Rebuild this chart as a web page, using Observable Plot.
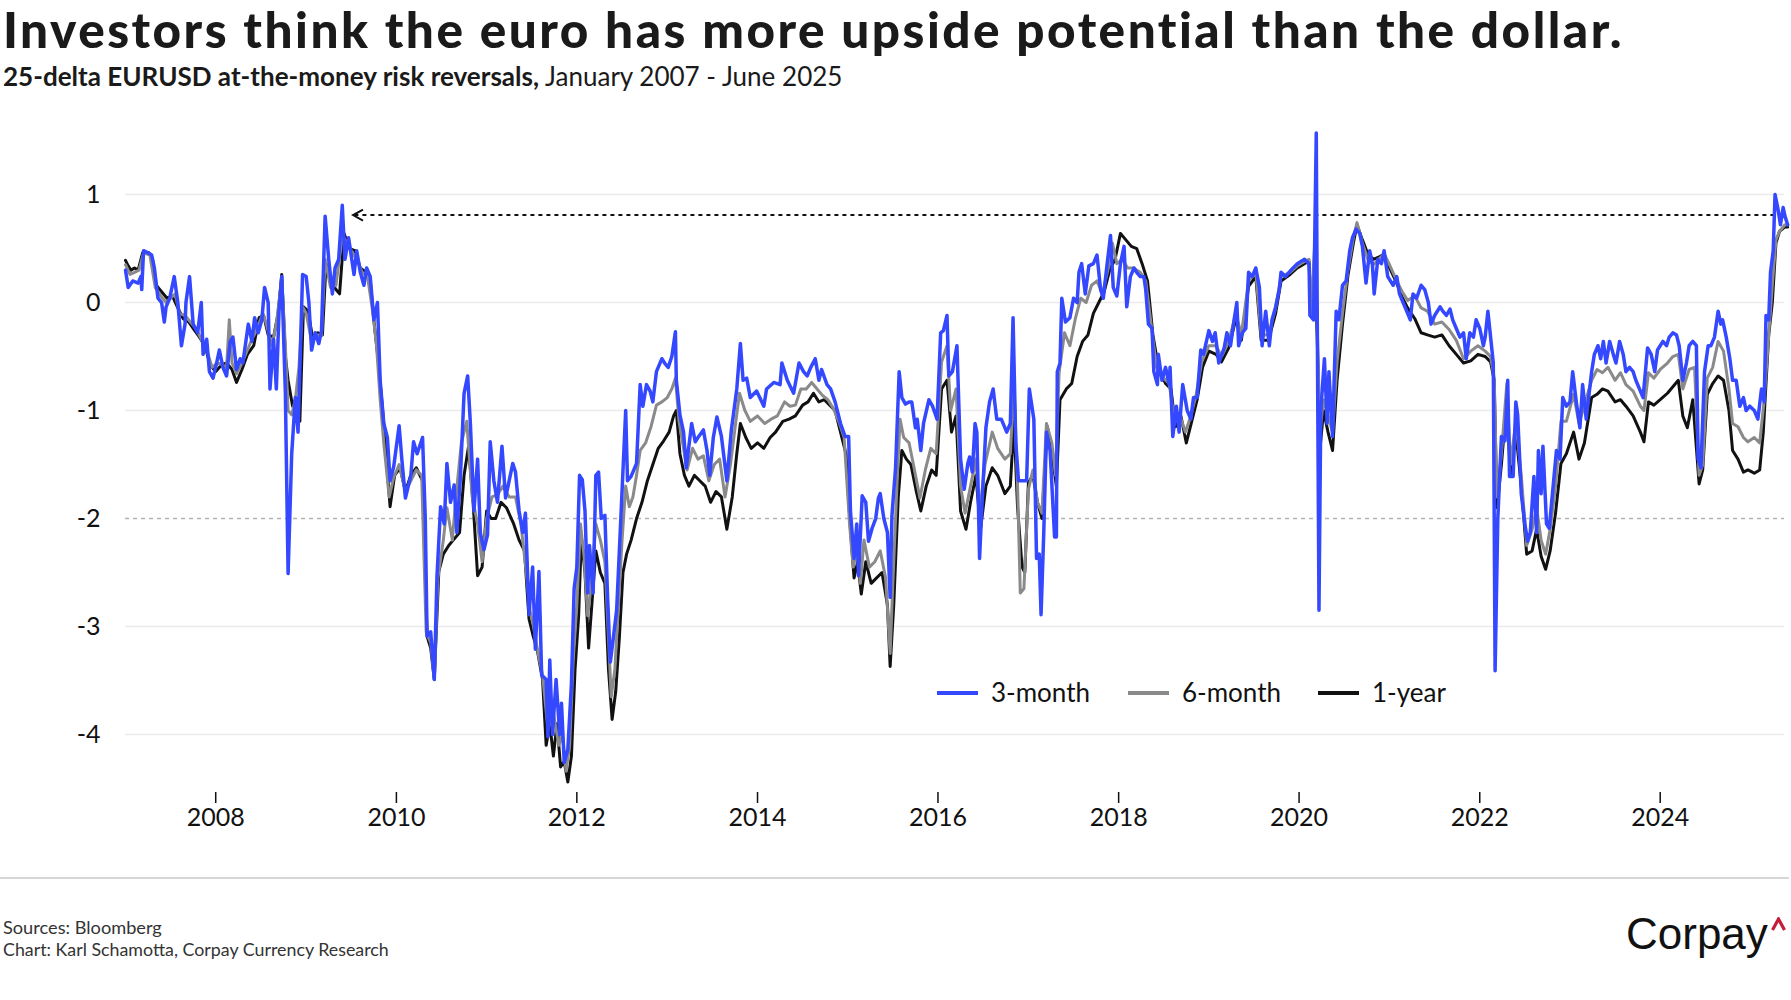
<!DOCTYPE html>
<html><head><meta charset="utf-8">
<script src="https://cdn.jsdelivr.net/npm/d3@7"></script>
<script src="https://cdn.jsdelivr.net/npm/@observablehq/plot@0.6"></script>
<style>
body{margin:0;background:#fff;font-family:Lato,"Open Sans",sans-serif;}
#wrap{position:relative;width:1791px;height:1000px;overflow:hidden;background:#fff;}
.abs{position:absolute;white-space:nowrap;line-height:1;}
.sw{position:absolute;height:4px;width:41px;}
.lt{position:absolute;white-space:nowrap;line-height:1;font-size:26px;color:#111;}
</style></head><body><div id="wrap">
<div id="title" class="abs" style="left:3px;top:5px;font-size:49.5px;font-weight:900;color:#1a1a1a">Investors think the euro has more upside potential than the dollar.</div>
<div id="subtitle" class="abs" style="left:3px;top:64px;font-size:25px;color:#1a1a1a"><span style="font-weight:700">25-delta EURUSD at-the-money risk reversals,</span> January 2007 - June 2025</div>
<div id="chart" class="abs" style="left:0;top:100px"></div>
<div id="legend"></div>
<div class="abs" style="left:0;top:877px;width:1789px;height:2px;background:#d6d6d6"></div>
<div id="src" class="abs" style="left:3px;top:918px;font-size:17px;color:#333">Sources: Bloomberg</div>
<div id="credit" class="abs" style="left:3px;top:941px;font-size:17px;color:#333">Chart: Karl Schamotta, Corpay Currency Research</div>
<div id="logo" class="abs" style="left:1626px;top:912px;font-size:44px;font-family:'Liberation Sans',Arial,sans-serif;color:#111">Corpay</div>
<svg class="abs" style="left:1771px;top:917px" width="16" height="16"><polyline points="1.5,13 7.5,2 13.5,13" fill="none" stroke="#c41e3a" stroke-width="3.2" stroke-linejoin="miter"/></svg>
</div>
<script>
// ---- data: [decimal year, value] ----
const threeMonth = [
[2007.00,0.30],[2007.03,0.14],[2007.08,0.20],[2007.14,0.18],[2007.17,0.24],[2007.18,0.12],[2007.20,0.48],[2007.25,0.46],[2007.29,0.44],[2007.32,0.32],[2007.36,0.04],[2007.40,0.00],[2007.43,-0.18],[2007.45,-0.04],[2007.49,0.04],[2007.54,0.24],[2007.58,0.00],[2007.62,-0.40],[2007.66,-0.20],[2007.67,0.00],[2007.71,0.24],[2007.75,-0.20],[2007.80,-0.28],[2007.84,0.00],[2007.86,-0.48],[2007.90,-0.34],[2007.93,-0.64],[2007.97,-0.70],
[2008.01,-0.56],[2008.04,-0.44],[2008.08,-0.60],[2008.12,-0.68],[2008.16,-0.36],[2008.19,-0.32],[2008.23,-0.62],[2008.27,-0.52],[2008.30,-0.56],[2008.36,-0.20],[2008.40,-0.36],[2008.43,-0.14],[2008.47,-0.28],[2008.51,-0.16],[2008.54,0.14],[2008.58,0.00],[2008.60,-0.80],[2008.64,-0.34],[2008.67,-0.80],[2008.70,-0.08],[2008.73,0.24],[2008.77,-0.84],[2008.80,-2.51],[2008.84,-1.40],[2008.88,-0.88],[2008.91,-1.20],[2008.96,0.26],
[2009.00,0.24],[2009.03,0.00],[2009.06,-0.44],[2009.10,-0.28],[2009.14,-0.38],[2009.17,-0.26],[2009.21,0.80],[2009.25,0.40],[2009.29,0.08],[2009.32,0.32],[2009.36,0.40],[2009.40,0.90],[2009.43,0.40],[2009.47,0.60],[2009.53,0.26],[2009.56,0.48],[2009.60,0.28],[2009.64,0.16],[2009.67,0.32],[2009.71,0.24],[2009.75,-0.16],[2009.79,0.00],[2009.82,-0.72],[2009.86,-1.12],[2009.90,-1.25],[2009.93,-1.65],[2009.97,-1.52],
[2010.03,-1.14],[2010.06,-1.45],[2010.10,-1.81],[2010.16,-1.60],[2010.19,-1.29],[2010.23,-1.40],[2010.29,-1.25],[2010.32,-2.00],[2010.34,-3.09],[2010.38,-3.05],[2010.42,-3.49],[2010.45,-2.53],[2010.49,-1.89],[2010.53,-2.05],[2010.56,-1.49],[2010.60,-1.85],[2010.64,-1.69],[2010.67,-2.13],[2010.71,-1.60],[2010.75,-0.84],[2010.79,-0.68],[2010.82,-1.12],[2010.86,-1.93],[2010.90,-1.45],[2010.93,-2.13],[2010.97,-2.29],
[2011.01,-2.15],[2011.04,-1.29],[2011.08,-1.65],[2011.12,-1.85],[2011.17,-1.33],[2011.21,-1.81],[2011.25,-1.65],[2011.29,-1.49],[2011.32,-1.57],[2011.36,-1.93],[2011.40,-2.13],[2011.43,-1.95],[2011.47,-2.89],[2011.51,-2.45],[2011.54,-3.21],[2011.58,-2.49],[2011.61,-3.45],[2011.66,-3.49],[2011.68,-4.02],[2011.70,-3.31],[2011.73,-4.00],[2011.77,-3.49],[2011.81,-4.00],[2011.83,-3.71],[2011.86,-4.26],[2011.90,-4.14],[2011.94,-3.53],[2011.97,-2.65],
[2012.00,-2.45],[2012.03,-1.60],[2012.06,-1.64],[2012.09,-1.93],[2012.12,-2.69],[2012.14,-2.25],[2012.18,-2.69],[2012.21,-1.60],[2012.24,-1.57],[2012.27,-2.00],[2012.31,-1.97],[2012.34,-2.73],[2012.37,-3.33],[2012.40,-3.13],[2012.44,-2.85],[2012.49,-1.93],[2012.54,-1.00],[2012.56,-1.65],[2012.60,-1.61],[2012.66,-1.49],[2012.70,-0.76],[2012.73,-0.96],[2012.77,-0.76],[2012.81,-0.82],[2012.84,-0.92],[2012.88,-0.64],[2012.94,-0.52],[2012.97,-0.56],
[2013.01,-0.60],[2013.05,-0.50],[2013.09,-0.27],[2013.10,-0.72],[2013.14,-1.04],[2013.18,-1.20],[2013.21,-1.53],[2013.27,-1.12],[2013.31,-1.29],[2013.34,-1.25],[2013.40,-1.18],[2013.44,-1.37],[2013.47,-1.60],[2013.51,-1.25],[2013.55,-1.06],[2013.60,-1.24],[2013.66,-1.65],[2013.71,-1.18],[2013.77,-0.80],[2013.81,-0.38],[2013.84,-0.72],[2013.88,-0.70],[2013.92,-0.88],[2013.99,-0.82],
[2014.07,-0.96],[2014.10,-0.80],[2014.18,-0.74],[2014.25,-0.76],[2014.27,-0.56],[2014.33,-0.72],[2014.40,-0.84],[2014.46,-0.56],[2014.51,-0.64],[2014.55,-0.68],[2014.59,-0.60],[2014.64,-0.52],[2014.68,-0.72],[2014.71,-0.62],[2014.77,-0.76],[2014.81,-0.80],[2014.86,-0.92],[2014.92,-1.12],[2014.97,-1.24],
[2015.01,-1.24],[2015.03,-1.93],[2015.07,-2.37],[2015.10,-2.05],[2015.12,-2.53],[2015.16,-1.79],[2015.20,-1.85],[2015.23,-2.21],[2015.27,-2.09],[2015.31,-2.00],[2015.34,-1.81],[2015.36,-1.77],[2015.40,-2.00],[2015.44,-2.13],[2015.47,-2.73],[2015.49,-1.97],[2015.53,-1.53],[2015.57,-0.64],[2015.60,-0.88],[2015.64,-0.94],[2015.68,-0.92],[2015.71,-0.92],[2015.75,-1.16],[2015.77,-1.08],[2015.81,-1.37],[2015.84,-1.12],[2015.90,-0.90],[2015.94,-0.96],[2015.99,-1.08],
[2016.03,-0.28],[2016.06,-0.26],[2016.10,-0.12],[2016.12,-0.68],[2016.16,-0.64],[2016.21,-0.40],[2016.25,-1.45],[2016.29,-1.73],[2016.33,-1.49],[2016.35,-1.43],[2016.38,-1.57],[2016.41,-1.12],[2016.43,-1.20],[2016.46,-2.37],[2016.49,-1.81],[2016.53,-1.16],[2016.57,-0.92],[2016.61,-0.80],[2016.65,-1.08],[2016.70,-1.08],[2016.76,-1.20],[2016.80,-1.12],[2016.83,-0.14],[2016.86,-1.29],[2016.89,-1.65],[2016.94,-1.65],[2016.98,-1.65],
[2017.01,-0.80],[2017.06,-1.08],[2017.09,-2.37],[2017.12,-2.33],[2017.14,-2.89],[2017.17,-2.13],[2017.20,-1.20],[2017.24,-1.37],[2017.29,-2.17],[2017.31,-2.17],[2017.32,-0.64],[2017.35,-0.56],[2017.37,0.04],[2017.41,-0.18],[2017.46,-0.14],[2017.50,0.04],[2017.54,0.00],[2017.56,0.28],[2017.59,0.36],[2017.63,0.08],[2017.67,0.34],[2017.72,0.36],[2017.76,0.44],[2017.80,0.12],[2017.83,0.04],[2017.87,0.34],[2017.91,0.62],[2017.94,0.14],[2017.98,0.06],
[2018.02,0.36],[2018.06,0.52],[2018.09,-0.04],[2018.13,0.24],[2018.17,0.32],[2018.20,0.28],[2018.24,0.24],[2018.28,0.24],[2018.30,0.12],[2018.33,-0.20],[2018.37,-0.24],[2018.39,-0.64],[2018.43,-0.76],[2018.44,-0.48],[2018.48,-0.72],[2018.52,-0.60],[2018.56,-0.76],[2018.57,-0.60],[2018.60,-1.24],[2018.64,-0.96],[2018.67,-1.20],[2018.71,-0.76],[2018.76,-1.00],[2018.80,-1.08],[2018.83,-0.88],[2018.87,-0.88],[2018.91,-0.44],[2018.94,-0.48],
[2019.00,-0.26],[2019.04,-0.36],[2019.07,-0.28],[2019.11,-0.56],[2019.17,-0.42],[2019.20,-0.28],[2019.24,-0.40],[2019.28,-0.16],[2019.31,0.00],[2019.33,-0.40],[2019.37,-0.28],[2019.41,-0.24],[2019.44,0.28],[2019.48,0.24],[2019.52,0.32],[2019.56,0.14],[2019.59,-0.40],[2019.63,-0.08],[2019.67,-0.40],[2019.70,-0.16],[2019.74,-0.04],[2019.78,0.12],[2019.80,0.28],[2019.85,0.24],[2019.91,0.30],[2019.98,0.36],
[2020.06,0.40],[2020.11,0.36],[2020.12,-0.12],[2020.16,-0.16],[2020.19,1.57],[2020.20,0.00],[2020.22,-2.85],[2020.24,-1.00],[2020.28,-0.52],[2020.31,-1.12],[2020.33,-0.64],[2020.37,-1.24],[2020.41,-0.08],[2020.44,-0.16],[2020.48,0.16],[2020.52,0.20],[2020.56,0.48],[2020.59,0.60],[2020.63,0.68],[2020.67,0.64],[2020.70,0.52],[2020.74,0.18],[2020.78,0.48],[2020.81,0.36],[2020.83,0.08],[2020.87,0.40],[2020.91,0.36],[2020.94,0.48],[2020.98,0.24],
[2021.04,0.16],[2021.08,0.24],[2021.11,0.08],[2021.15,0.00],[2021.19,-0.08],[2021.23,-0.16],[2021.26,0.08],[2021.30,0.04],[2021.35,0.16],[2021.39,0.12],[2021.43,0.00],[2021.46,-0.20],[2021.50,-0.12],[2021.56,-0.04],[2021.59,-0.08],[2021.63,-0.12],[2021.67,-0.06],[2021.70,-0.16],[2021.74,-0.24],[2021.78,-0.32],[2021.82,-0.28],[2021.85,-0.52],[2021.89,-0.28],[2021.93,-0.32],[2021.96,-0.16],
[2022.00,-0.24],[2022.04,-0.40],[2022.06,-0.32],[2022.09,-0.08],[2022.12,-0.32],[2022.15,-0.56],[2022.17,-3.41],[2022.20,-2.00],[2022.24,-1.24],[2022.28,-1.28],[2022.31,-0.72],[2022.33,-1.61],[2022.37,-1.61],[2022.40,-0.92],[2022.42,-1.04],[2022.46,-1.77],[2022.50,-2.05],[2022.53,-2.21],[2022.56,-2.13],[2022.60,-1.61],[2022.63,-2.13],[2022.65,-1.37],[2022.68,-1.77],[2022.70,-1.33],[2022.74,-2.05],[2022.77,-2.09],[2022.81,-1.73],[2022.85,-1.37],[2022.89,-1.45],[2022.92,-0.88],[2022.96,-0.96],
[2023.00,-0.92],[2023.03,-0.64],[2023.07,-0.92],[2023.11,-1.16],[2023.14,-0.76],[2023.18,-1.08],[2023.24,-0.64],[2023.27,-0.48],[2023.31,-0.40],[2023.34,-0.52],[2023.37,-0.36],[2023.40,-0.56],[2023.44,-0.36],[2023.48,-0.48],[2023.51,-0.56],[2023.55,-0.36],[2023.59,-0.48],[2023.62,-0.64],[2023.66,-0.60],[2023.70,-0.64],[2023.73,-0.72],[2023.77,-0.80],[2023.81,-0.88],[2023.86,-0.42],[2023.90,-0.48],[2023.94,-0.64],[2023.97,-0.44],
[2024.03,-0.36],[2024.07,-0.40],[2024.10,-0.32],[2024.14,-0.28],[2024.18,-0.30],[2024.21,-0.40],[2024.25,-0.72],[2024.29,-0.56],[2024.32,-0.40],[2024.36,-0.36],[2024.40,-0.40],[2024.42,-1.45],[2024.45,-1.53],[2024.49,-0.64],[2024.53,-0.40],[2024.56,-0.40],[2024.60,-0.32],[2024.64,-0.08],[2024.67,-0.20],[2024.69,-0.16],[2024.73,-0.32],[2024.77,-0.52],[2024.80,-0.72],[2024.84,-0.72],[2024.88,-0.96],[2024.92,-0.88],[2024.95,-1.00],[2024.99,-0.96],
[2025.04,-1.00],[2025.08,-1.08],[2025.12,-0.80],[2025.15,-0.92],[2025.17,-0.12],[2025.20,-0.16],[2025.22,0.28],[2025.25,0.48],[2025.27,1.00],[2025.30,0.88],[2025.33,0.72],[2025.36,0.88],[2025.38,0.80],[2025.41,0.72]
];
const sixMonth = [
[2007.00,0.35],[2007.05,0.26],[2007.10,0.28],[2007.15,0.30],[2007.20,0.46],[2007.27,0.44],[2007.33,0.14],[2007.40,0.05],[2007.45,0.00],[2007.50,0.04],[2007.55,0.08],[2007.60,-0.10],[2007.66,-0.12],[2007.72,-0.18],[2007.78,-0.24],[2007.84,-0.34],[2007.90,-0.44],[2007.96,-0.60],
[2008.02,-0.56],[2008.08,-0.58],[2008.12,-0.60],[2008.15,-0.16],[2008.18,-0.56],[2008.23,-0.66],[2008.28,-0.58],[2008.34,-0.46],[2008.40,-0.34],[2008.46,-0.24],[2008.52,-0.10],[2008.56,-0.20],[2008.62,-0.40],[2008.67,-0.20],[2008.73,0.22],[2008.77,-0.40],[2008.80,-1.00],[2008.84,-1.04],[2008.88,-0.90],[2008.92,-0.60],[2008.96,-0.04],
[2009.00,-0.10],[2009.06,-0.36],[2009.12,-0.30],[2009.17,-0.30],[2009.21,0.40],[2009.27,0.14],[2009.33,0.16],[2009.40,0.62],[2009.45,0.56],[2009.50,0.48],[2009.56,0.40],[2009.62,0.28],[2009.68,0.24],[2009.74,-0.10],[2009.78,-0.40],[2009.82,-0.90],[2009.86,-1.30],[2009.92,-1.80],[2009.97,-1.62],
[2010.03,-1.50],[2010.10,-1.75],[2010.16,-1.65],[2010.22,-1.55],[2010.28,-1.60],[2010.33,-3.05],[2010.38,-3.15],[2010.42,-3.49],[2010.46,-2.55],[2010.52,-2.20],[2010.56,-1.90],[2010.62,-2.20],[2010.66,-1.80],[2010.72,-1.30],[2010.78,-1.10],[2010.84,-1.80],[2010.90,-2.05],[2010.95,-2.40],
[2011.00,-2.00],[2011.06,-1.80],[2011.12,-1.78],[2011.18,-1.70],[2011.25,-1.80],[2011.32,-1.80],[2011.38,-2.05],[2011.44,-2.50],[2011.48,-2.85],[2011.52,-3.00],[2011.56,-3.20],[2011.62,-3.45],[2011.68,-3.95],[2011.74,-3.80],[2011.80,-4.10],[2011.84,-4.00],[2011.88,-4.34],[2011.92,-4.10],[2011.96,-3.30],
[2012.00,-2.80],[2012.04,-2.05],[2012.08,-2.35],[2012.12,-2.90],[2012.16,-2.60],[2012.21,-2.05],[2012.26,-2.20],[2012.31,-2.40],[2012.35,-3.10],[2012.38,-3.65],[2012.42,-3.40],[2012.46,-2.80],[2012.50,-2.20],[2012.54,-1.70],[2012.58,-1.89],[2012.62,-1.80],[2012.66,-1.60],[2012.70,-1.37],[2012.76,-1.30],[2012.82,-1.15],[2012.88,-0.95],[2012.94,-0.92],
[2013.00,-0.88],[2013.05,-0.80],[2013.09,-0.70],[2013.13,-1.10],[2013.18,-1.35],[2013.22,-1.55],[2013.28,-1.35],[2013.34,-1.45],[2013.40,-1.42],[2013.46,-1.65],[2013.52,-1.50],[2013.58,-1.45],[2013.64,-1.80],[2013.70,-1.50],[2013.76,-1.10],[2013.80,-0.84],[2013.86,-1.00],[2013.92,-1.10],
[2014.00,-1.05],[2014.08,-1.12],[2014.15,-1.08],[2014.22,-1.05],[2014.30,-0.92],[2014.36,-0.96],[2014.42,-0.95],[2014.48,-0.80],[2014.54,-0.80],[2014.60,-0.74],[2014.66,-0.80],[2014.72,-0.86],[2014.78,-0.90],[2014.84,-0.98],[2014.90,-1.10],[2014.96,-1.25],
[2015.02,-2.05],[2015.06,-2.45],[2015.10,-2.30],[2015.14,-2.60],[2015.18,-2.20],[2015.24,-2.45],[2015.30,-2.40],[2015.36,-2.30],[2015.42,-2.55],[2015.47,-3.25],[2015.50,-2.60],[2015.55,-1.60],[2015.58,-1.08],[2015.62,-1.25],[2015.68,-1.30],[2015.74,-1.55],[2015.80,-1.81],[2015.86,-1.55],[2015.92,-1.35],[2015.98,-1.40],
[2016.04,-0.55],[2016.10,-0.40],[2016.14,-1.00],[2016.20,-0.80],[2016.25,-1.70],[2016.30,-1.95],[2016.36,-1.70],[2016.42,-1.45],[2016.46,-1.95],[2016.52,-1.50],[2016.60,-1.20],[2016.66,-1.35],[2016.74,-1.45],[2016.80,-1.40],[2016.84,-0.75],[2016.88,-1.70],[2016.91,-2.69],[2016.95,-2.65],
[2017.00,-1.73],[2017.05,-1.55],[2017.10,-1.85],[2017.15,-1.95],[2017.20,-1.12],[2017.26,-1.30],[2017.30,-1.60],[2017.34,-0.65],[2017.40,-0.28],[2017.46,-0.40],[2017.52,-0.15],[2017.58,0.04],[2017.64,0.00],[2017.70,0.16],[2017.76,0.20],[2017.82,0.08],[2017.88,0.30],[2017.93,0.55],[2017.98,0.36],
[2018.04,0.40],[2018.10,0.32],[2018.16,0.32],[2018.24,0.28],[2018.30,0.20],[2018.36,-0.20],[2018.42,-0.60],[2018.50,-0.70],[2018.56,-0.75],[2018.62,-1.10],[2018.68,-1.05],[2018.74,-1.20],[2018.80,-1.05],[2018.86,-0.85],[2018.92,-0.55],
[2019.00,-0.40],[2019.08,-0.40],[2019.14,-0.50],[2019.22,-0.36],[2019.30,-0.10],[2019.36,-0.30],[2019.44,0.20],[2019.52,0.28],[2019.58,-0.30],[2019.66,-0.30],[2019.74,-0.05],[2019.80,0.24],[2019.90,0.28],[2019.98,0.34],
[2020.06,0.38],[2020.11,0.40],[2020.13,-0.10],[2020.17,0.50],[2020.20,-0.20],[2020.23,-1.20],[2020.27,-0.90],[2020.32,-1.05],[2020.37,-1.20],[2020.42,-0.55],[2020.48,-0.10],[2020.54,0.30],[2020.60,0.60],[2020.64,0.74],[2020.70,0.55],[2020.76,0.40],[2020.82,0.35],[2020.88,0.40],[2020.94,0.45],
[2021.00,0.35],[2021.08,0.20],[2021.14,0.10],[2021.20,0.02],[2021.28,0.06],[2021.35,-0.05],[2021.42,-0.08],[2021.50,-0.20],[2021.58,-0.18],[2021.66,-0.25],[2021.74,-0.35],[2021.82,-0.52],[2021.90,-0.45],[2021.98,-0.40],
[2022.06,-0.45],[2022.12,-0.50],[2022.16,-0.70],[2022.19,-1.80],[2022.24,-1.40],[2022.30,-0.75],[2022.34,-1.50],[2022.40,-1.10],[2022.46,-1.60],[2022.52,-2.25],[2022.58,-2.10],[2022.63,-1.90],[2022.68,-2.20],[2022.73,-2.33],[2022.78,-2.10],[2022.84,-1.70],[2022.90,-1.10],[2022.96,-1.10],
[2023.04,-0.85],[2023.10,-1.12],[2023.16,-0.95],[2023.24,-0.72],[2023.30,-0.62],[2023.36,-0.65],[2023.42,-0.60],[2023.50,-0.72],[2023.56,-0.65],[2023.62,-0.76],[2023.70,-0.82],[2023.78,-0.96],[2023.82,-1.00],[2023.87,-0.65],[2023.93,-0.70],
[2024.00,-0.62],[2024.08,-0.56],[2024.14,-0.50],[2024.20,-0.48],[2024.25,-0.80],[2024.32,-0.62],[2024.38,-0.60],[2024.43,-1.60],[2024.47,-1.50],[2024.52,-0.70],[2024.58,-0.60],[2024.64,-0.36],[2024.70,-0.45],[2024.76,-0.80],[2024.80,-1.12],[2024.86,-1.15],[2024.92,-1.25],[2024.97,-1.29],
[2025.04,-1.25],[2025.10,-1.30],[2025.15,-0.90],[2025.20,-0.30],[2025.24,0.16],[2025.28,0.58],[2025.32,0.66],[2025.38,0.72],[2025.41,0.72]
];
const oneYear = [
[2007.00,0.39],[2007.03,0.34],[2007.06,0.30],[2007.10,0.32],[2007.14,0.30],[2007.19,0.46],[2007.26,0.46],[2007.30,0.40],[2007.34,0.16],[2007.40,0.10],[2007.46,0.04],[2007.52,0.06],[2007.58,-0.05],[2007.64,-0.15],[2007.70,-0.18],[2007.76,-0.25],[2007.82,-0.32],[2007.88,-0.40],[2007.94,-0.58],
[2008.00,-0.64],[2008.06,-0.58],[2008.12,-0.56],[2008.18,-0.62],[2008.23,-0.74],[2008.29,-0.62],[2008.35,-0.48],[2008.42,-0.40],[2008.48,-0.14],[2008.53,-0.12],[2008.58,-0.30],[2008.64,-0.32],[2008.69,-0.10],[2008.73,0.26],[2008.77,-0.50],[2008.80,-0.72],[2008.85,-0.96],[2008.89,-0.88],[2008.93,-1.10],[2008.97,-0.04],
[2009.02,-0.08],[2009.07,-0.32],[2009.13,-0.28],[2009.18,-0.30],[2009.22,0.36],[2009.27,0.20],[2009.33,0.12],[2009.37,0.08],[2009.42,0.64],[2009.48,0.50],[2009.54,0.48],[2009.60,0.32],[2009.66,0.28],[2009.71,0.20],[2009.75,-0.16],[2009.80,-0.55],[2009.86,-1.12],[2009.93,-1.89],[2009.98,-1.60],
[2010.04,-1.53],[2010.10,-1.75],[2010.16,-1.60],[2010.22,-1.53],[2010.29,-1.65],[2010.34,-3.09],[2010.38,-3.20],[2010.42,-3.49],[2010.47,-2.49],[2010.52,-2.33],[2010.58,-2.25],[2010.63,-2.20],[2010.70,-2.13],[2010.75,-1.60],[2010.80,-1.33],[2010.85,-1.85],[2010.90,-2.53],[2010.95,-2.45],
[2011.00,-1.93],[2011.05,-2.00],[2011.10,-2.00],[2011.16,-1.85],[2011.22,-1.90],[2011.30,-2.05],[2011.36,-2.20],[2011.42,-2.30],[2011.47,-2.93],[2011.52,-3.10],[2011.56,-3.21],[2011.62,-3.49],[2011.66,-4.10],[2011.70,-3.90],[2011.74,-4.20],[2011.78,-3.90],[2011.82,-4.30],[2011.86,-4.25],[2011.90,-4.44],[2011.94,-4.20],[2011.98,-3.40],
[2012.02,-2.90],[2012.05,-2.17],[2012.09,-2.50],[2012.13,-3.20],[2012.17,-2.75],[2012.21,-2.30],[2012.26,-2.50],[2012.31,-2.60],[2012.35,-3.40],[2012.39,-3.86],[2012.43,-3.60],[2012.47,-3.10],[2012.51,-2.50],[2012.55,-2.33],[2012.60,-2.20],[2012.66,-2.00],[2012.72,-1.85],[2012.78,-1.65],[2012.84,-1.50],[2012.90,-1.35],[2012.96,-1.28],
[2013.02,-1.20],[2013.07,-1.05],[2013.10,-1.00],[2013.14,-1.40],[2013.19,-1.60],[2013.24,-1.70],[2013.30,-1.60],[2013.36,-1.65],[2013.42,-1.70],[2013.48,-1.85],[2013.54,-1.75],[2013.60,-1.80],[2013.66,-2.10],[2013.72,-1.80],[2013.77,-1.40],[2013.81,-1.12],[2013.87,-1.25],[2013.93,-1.35],
[2014.00,-1.30],[2014.07,-1.35],[2014.14,-1.25],[2014.20,-1.20],[2014.28,-1.10],[2014.35,-1.08],[2014.42,-1.05],[2014.50,-0.95],[2014.56,-0.92],[2014.62,-0.84],[2014.68,-0.92],[2014.74,-0.90],[2014.80,-0.95],[2014.86,-1.00],[2014.92,-1.20],[2014.98,-1.40],
[2015.03,-2.10],[2015.07,-2.55],[2015.11,-2.40],[2015.15,-2.70],[2015.20,-2.40],[2015.26,-2.60],[2015.32,-2.55],[2015.38,-2.50],[2015.44,-2.80],[2015.47,-3.37],[2015.51,-2.80],[2015.56,-1.80],[2015.60,-1.37],[2015.65,-1.45],[2015.70,-1.50],[2015.76,-1.75],[2015.81,-1.93],[2015.87,-1.70],[2015.93,-1.55],[2015.98,-1.60],
[2016.04,-0.80],[2016.10,-0.72],[2016.15,-1.20],[2016.20,-1.05],[2016.25,-1.93],[2016.31,-2.10],[2016.36,-1.85],[2016.42,-1.60],[2016.47,-2.10],[2016.53,-1.70],[2016.60,-1.53],[2016.66,-1.60],[2016.74,-1.77],[2016.80,-1.70],[2016.84,-1.10],[2016.88,-1.90],[2016.93,-2.45],[2016.96,-2.50],
[2017.00,-1.67],[2017.05,-1.60],[2017.10,-1.85],[2017.15,-2.00],[2017.21,-1.15],[2017.26,-1.40],[2017.31,-1.70],[2017.35,-0.90],[2017.42,-0.80],[2017.48,-0.75],[2017.54,-0.50],[2017.60,-0.36],[2017.66,-0.30],[2017.72,-0.10],[2017.78,0.00],[2017.84,0.10],[2017.90,0.30],[2017.96,0.40],
[2018.02,0.64],[2018.08,0.58],[2018.14,0.52],[2018.20,0.50],[2018.26,0.36],[2018.32,0.20],[2018.38,-0.30],[2018.44,-0.60],[2018.52,-0.75],[2018.58,-0.80],[2018.63,-1.15],[2018.69,-1.05],[2018.75,-1.30],[2018.81,-1.10],[2018.87,-0.90],[2018.93,-0.60],
[2019.00,-0.45],[2019.08,-0.48],[2019.14,-0.55],[2019.22,-0.42],[2019.30,-0.15],[2019.36,-0.35],[2019.44,0.15],[2019.52,0.24],[2019.58,-0.35],[2019.66,-0.35],[2019.74,-0.10],[2019.80,0.20],[2019.90,0.26],[2019.98,0.32],
[2020.06,0.36],[2020.11,0.38],[2020.13,-0.05],[2020.17,0.30],[2020.20,-0.30],[2020.23,-1.37],[2020.27,-1.00],[2020.32,-1.20],[2020.37,-1.37],[2020.42,-0.72],[2020.48,-0.20],[2020.54,0.25],[2020.60,0.55],[2020.64,0.72],[2020.70,0.58],[2020.76,0.45],[2020.82,0.40],[2020.88,0.42],[2020.94,0.45],
[2021.00,0.32],[2021.08,0.18],[2021.14,0.05],[2021.20,-0.05],[2021.28,-0.15],[2021.35,-0.28],[2021.42,-0.30],[2021.50,-0.32],[2021.58,-0.30],[2021.66,-0.40],[2021.74,-0.48],[2021.82,-0.56],[2021.90,-0.54],[2021.98,-0.48],
[2022.06,-0.50],[2022.12,-0.55],[2022.16,-0.72],[2022.19,-1.90],[2022.24,-1.50],[2022.30,-0.90],[2022.34,-1.60],[2022.40,-1.20],[2022.46,-1.70],[2022.52,-2.33],[2022.58,-2.30],[2022.63,-2.10],[2022.68,-2.35],[2022.73,-2.47],[2022.78,-2.30],[2022.84,-1.95],[2022.90,-1.49],[2022.96,-1.40],
[2023.04,-1.20],[2023.10,-1.45],[2023.16,-1.30],[2023.24,-0.88],[2023.30,-0.85],[2023.36,-0.80],[2023.42,-0.82],[2023.50,-0.92],[2023.56,-0.90],[2023.62,-0.96],[2023.70,-1.05],[2023.78,-1.20],[2023.82,-1.29],[2023.87,-0.92],[2023.93,-0.95],
[2024.00,-0.90],[2024.08,-0.84],[2024.14,-0.78],[2024.20,-0.72],[2024.25,-1.05],[2024.30,-1.16],[2024.36,-0.90],[2024.43,-1.68],[2024.47,-1.55],[2024.52,-0.85],[2024.58,-0.75],[2024.64,-0.68],[2024.70,-0.72],[2024.76,-1.00],[2024.80,-1.37],[2024.86,-1.45],[2024.92,-1.57],[2024.97,-1.55],
[2025.04,-1.58],[2025.10,-1.55],[2025.14,-1.20],[2025.20,-0.30],[2025.24,0.00],[2025.28,0.55],[2025.32,0.66],[2025.38,0.70],[2025.41,0.70]
];
const seriesNames = ["3-month", "6-month", "1-year"];
const seriesColors = ["#3448ff", "#8a8a8a", "#111111"];
const yTicks = [-4, -3, -2, -1, 0, 1];
const yGrid = [-4, -3, -1, 0, 1];
const yDashed = [-2];
const xTickYears = [2008, 2010, 2012, 2014, 2016, 2018, 2020, 2022, 2024];
const reference = {value: 0.81, from: 2009.52, to: 2025.375};
const xExtent = [2007.0, 2025.375];
const yExtent = [-4.537, 1.593];

// ---- helpers ----
function toDate(t) {
  const y = Math.floor(t);
  const s = Date.UTC(y, 0, 1), e = Date.UTC(y + 1, 0, 1);
  return new Date(s + (t - y) * (e - s));
}
const rows = (s) => s.map(([t, v]) => ({date: toDate(t), value: v}));

const chevron = {
  draw(ctx, size) {
    const r = Math.sqrt(size / Math.PI);
    ctx.moveTo(r * 1.8, -r);
    ctx.lineTo(0, 0);
    ctx.lineTo(r * 1.8, r);
  }
};

const chart = Plot.plot({
  width: 1791, height: 760,
  marginLeft: 125, marginRight: 7, marginTop: 30, marginBottom: 68,
  x: {type: "utc", domain: xExtent.map(toDate), label: null},
  y: {domain: yExtent, label: null},
  style: {fontFamily: "Lato, 'Open Sans', sans-serif", fontSize: "25px", color: "#111", background: "#fff", overflow: "visible"},
  marks: [
    Plot.ruleY(yGrid, {stroke: "#ebebeb", strokeWidth: 1.5}),
    Plot.ruleY(yDashed, {stroke: "#b3b3b3", strokeWidth: 1.5, strokeDasharray: "4,4"}),
    Plot.axisY(yTicks, {tickSize: 0, tickPadding: 25, tickFormat: (d) => String(d), fontSize: 25, label: null}),
    Plot.axisX(xTickYears.map(toDate), {tickSize: 11, tickPadding: 5, strokeWidth: 1.5, tickFormat: (d) => String(d.getUTCFullYear()), fontSize: 25, label: null}),
    Plot.ruleY([reference], {y: "value", x1: (d) => toDate(d.from + 0.02), x2: (d) => toDate(d.to), stroke: "#111", strokeWidth: 2, strokeDasharray: "4,4"}),
    Plot.dot([reference], {x: (d) => toDate(d.from), y: "value", symbol: chevron, r: 5.5, stroke: "#111", strokeWidth: 2, fill: "none"}),
    Plot.line(rows(oneYear), {x: "date", y: "value", stroke: seriesColors[2], strokeWidth: 3, strokeLinejoin: "round"}),
    Plot.line(rows(sixMonth), {x: "date", y: "value", stroke: seriesColors[1], strokeWidth: 3, strokeLinejoin: "round"}),
    Plot.line(rows(threeMonth), {x: "date", y: "value", stroke: seriesColors[0], strokeWidth: 3.5, strokeLinejoin: "round"})
  ]
});
document.getElementById("chart").appendChild(chart);

// legend (HTML overlay)
const legend = document.getElementById("legend");
const swatchX = [937, 1128, 1318];
seriesNames.forEach((name, i) => {
  const sw = document.createElement("div");
  sw.className = "sw";
  sw.style.left = swatchX[i] + "px";
  sw.style.top = "691px";
  sw.style.background = seriesColors[i];
  legend.appendChild(sw);
  const t = document.createElement("div");
  t.className = "lt";
  t.style.left = (swatchX[i] + 54) + "px";
  t.style.top = "679px";
  t.textContent = name;
  legend.appendChild(t);
});

// fit text widths to the reference
function fit(id, target) {
  const el = document.getElementById(id);
  const w = el.getBoundingClientRect().width;
  const fs = parseFloat(getComputedStyle(el).fontSize);
  el.style.fontSize = (fs * target / w) + "px";
}
function fitSpacing(id, target) {
  const el = document.getElementById(id);
  const w = el.getBoundingClientRect().width;
  const n = el.textContent.length;
  el.style.letterSpacing = ((target - w) / n) + "px";
}
function placeBaseline(id, baseline) {
  const el = document.getElementById(id);
  const fs = parseFloat(el.style.fontSize);
  el.style.top = (baseline - 0.887 * fs) + "px";
}
fitSpacing("title", 1622);
placeBaseline("title", 49);
fit("subtitle", 840);
placeBaseline("subtitle", 86);
fit("credit", 386);
fit("src", 159);
</script>
</body></html>
